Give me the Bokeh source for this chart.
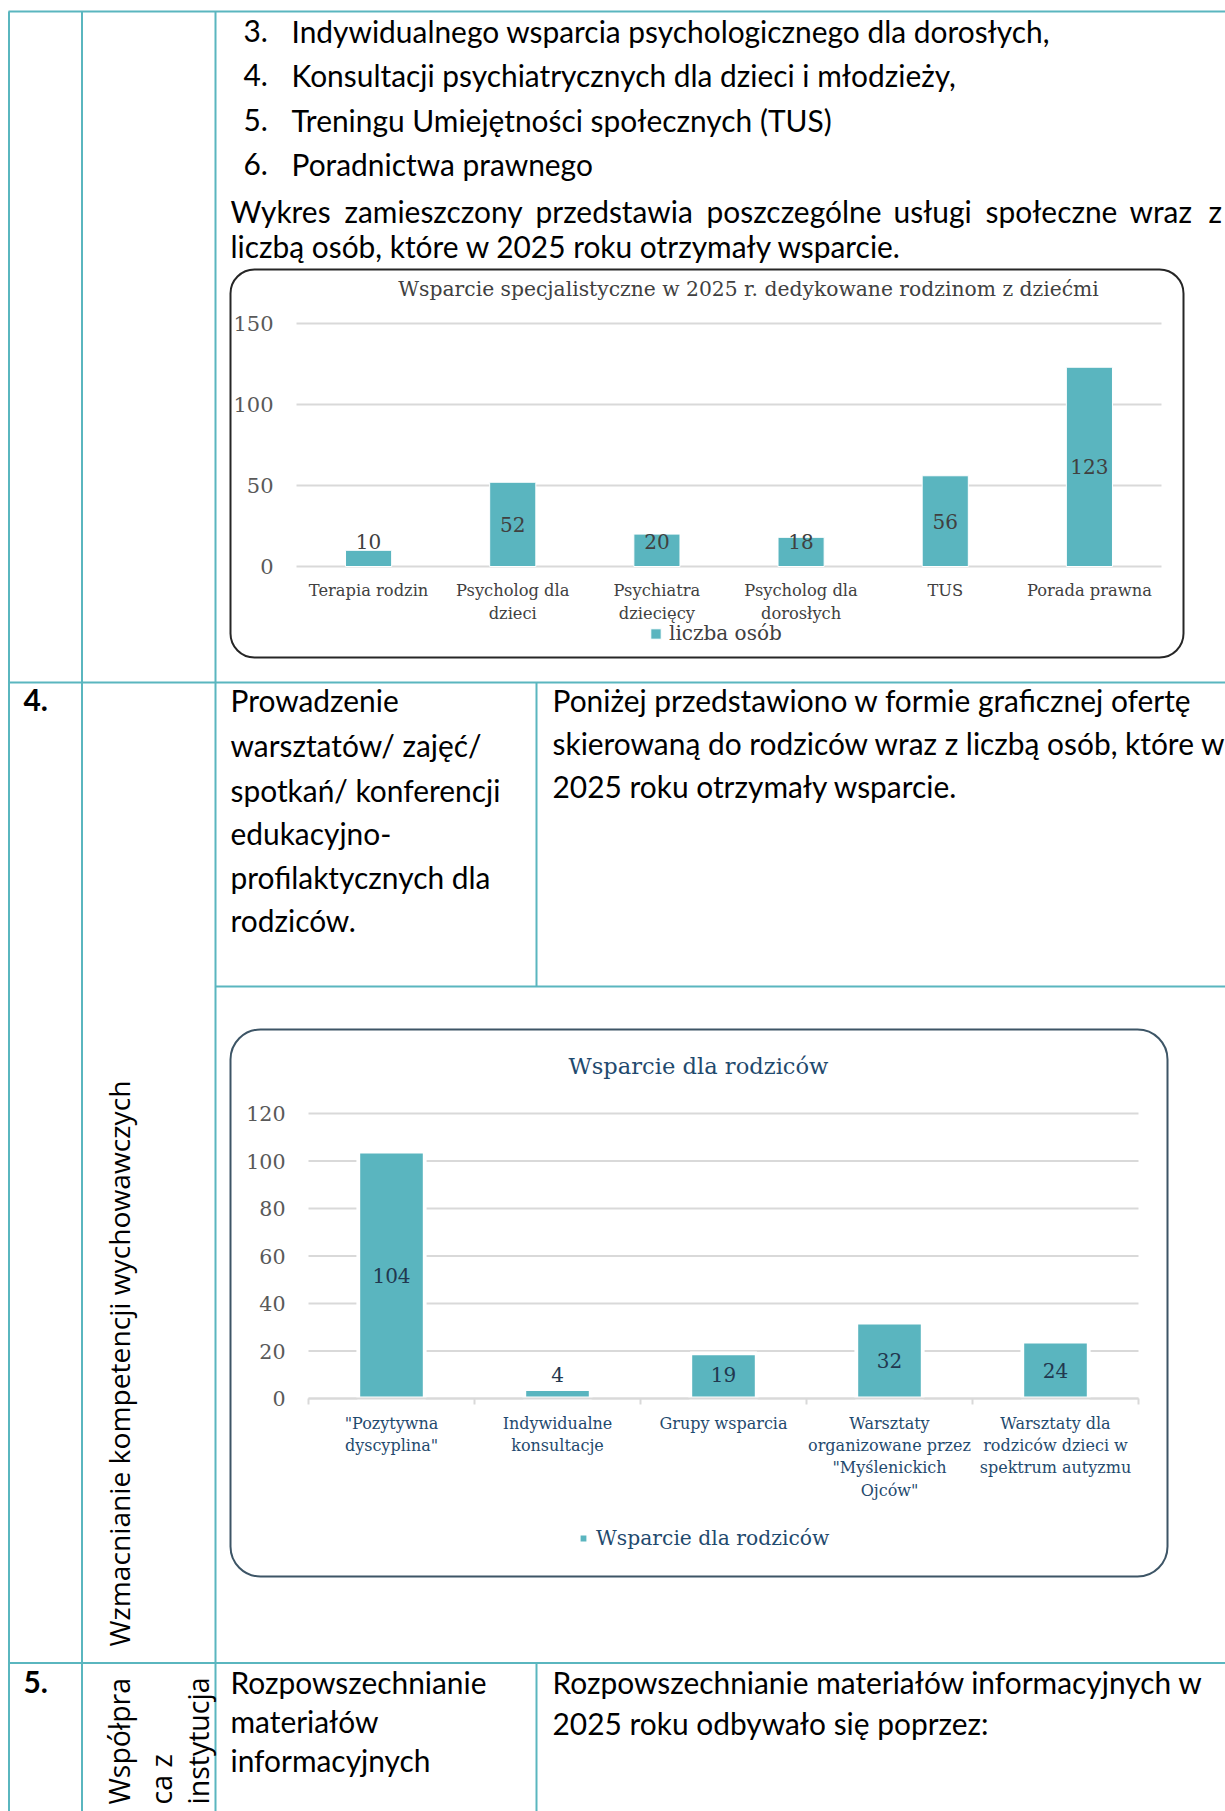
import math
from bokeh.plotting import figure
from bokeh.models import (Range1d, ColumnDataSource, Legend, LegendItem, BoxAnnotation,
                          FixedTicker, LinearAxis)
from bokeh.core.properties import value
from bokeh.embed import file_html
from bokeh.resources import INLINE

# ---------------- data ----------------
list_numbers = ["3.", "4.", "5.", "6."]
list_items = ["Indywidualnego wsparcia psychologicznego dla dorosłych,",
              "Konsultacji psychiatrycznych dla dzieci i młodzieży,",
              "Treningu Umiejętności społecznych (TUS)",
              "Poradnictwa prawnego"]
intro_words = ["Wykres", "zamieszczony", "przedstawia", "poszczególne",
               "usługi", "społeczne", "wraz", "z"]
intro_line2 = "liczbą osób, które w 2025 roku otrzymały wsparcie."

row4_number = "4."
row4_left = ["Prowadzenie", "warsztatów/ zajęć/", "spotkań/ konferencji",
             "edukacyjno-", "profilaktycznych dla", "rodziców."]
row4_right = ["Poniżej przedstawiono w formie graficznej ofertę",
              "skierowaną do rodziców wraz z liczbą osób, które w",
              "2025 roku otrzymały wsparcie."]
row4_vertical = "Wzmacnianie kompetencji wychowawczych"

row5_number = "5."
row5_vertical = ["Współpra", "ca z", "instytucja"]
row5_left = ["Rozpowszechnianie", "materiałów", "informacyjnych"]
row5_right = ["Rozpowszechnianie materiałów informacyjnych w",
              "2025 roku odbywało się poprzez:"]

c1_title = "Wsparcie specjalistyczne w 2025 r. dedykowane rodzinom z dziećmi"
c1_series = "liczba osób"
c1_categories = ["Terapia rodzin", "Psycholog dla\ndzieci", "Psychiatra\ndziecięcy",
                 "Psycholog dla\ndorosłych", "TUS", "Porada prawna"]
c1_values = [10, 52, 20, 18, 56, 123]
c1_ticks = [0, 50, 100, 150]

c2_title = "Wsparcie dla rodziców"
c2_series = "Wsparcie dla rodziców"
c2_categories = ['"Pozytywna\ndyscyplina"', "Indywidualne\nkonsultacje", "Grupy wsparcia",
                 'Warsztaty\norganizowane przez\n"Myślenickich\nOjców"',
                 "Warsztaty dla\nrodziców dzieci w\nspektrum autyzmu"]
c2_values = [104, 4, 19, 32, 24]
c2_ticks = [0, 20, 40, 60, 80, 100, 120]

# ---------------- styles / page geometry ----------------
W, H = 1225, 1811
TABLE = "#5AB6BF"
BAR = "#5AB5BF"
GRID = "#D9D9D9"
BODY_FONT = "Lato"
BODY_SIZE = 29.9
SERIF = "DejaVu Serif"
NAVY = "#1F4A6E"
DY = -2.3   # vertical nudge of body text


def Y(y):
    """page y (from top) -> data y (from bottom)"""
    return H - y


p = figure(width=W, height=H, x_range=Range1d(0, W), y_range=Range1d(0, H),
           output_backend="svg", toolbar_location=None, x_axis_type=None,
           y_axis_type=None, min_border=0, outline_line_color=None,
           border_fill_color="white", background_fill_color="white")


def add_text(xs, ys, texts, size=BODY_SIZE, font=BODY_FONT, color="#000000",
             style="normal", align="left", baseline="alphabetic", angle=0.0, dy=0.0):
    p.text(x=xs, y=[Y(v + dy) for v in ys], text=texts, text_font=value(font),
           text_font_size=f"{size}px", text_font_style=style, text_color=color,
           text_align=align, text_baseline=baseline, angle=angle)


def body(xs, ys, texts, **kw):
    add_text(xs, ys, texts, dy=DY, **kw)


def hline(x0, x1, y, w=2):
    p.segment(x0=[x0], x1=[x1], y0=[Y(y)], y1=[Y(y)], line_color=TABLE, line_width=w)


def vline(x, y0, y1, w=2):
    p.segment(x0=[x], x1=[x], y0=[Y(y0)], y1=[Y(y1)], line_color=TABLE, line_width=w)


# ---------------- table grid ----------------
hline(8, W, 11)
hline(8, W, 682)
hline(215, W, 986)
hline(8, W, 1662.5)
for xv in (8.5, 81.5, 215):
    vline(xv, 11, H)
vline(536, 682, 986)
vline(536, 1662.5, H)

# ---------------- table texts ----------------
body([243] * 4, [32.5, 77, 121.5, 166], list_numbers)
body([291] * 4, [32.5, 77, 121.5, 166], list_items)
body([230, 344, 535, 706, 893, 985, 1129, 1208], [212.5] * 8, intro_words)
body([230], [248], [intro_line2])

body([23], [702], [row4_number], style="bold")
body([230] * 6, [702, 747, 792, 835, 879, 921.5], row4_left)
body([552] * 3, [702, 745, 788], row4_right)
add_text([118], [1646], [row4_vertical], size=28.2, font="Open Sans",
         baseline="middle", angle=math.pi / 2)

body([23], [1683.5], [row5_number], style="bold")
body([230] * 3, [1683.5, 1723, 1762], row5_left)
body([552] * 2, [1683.5, 1725], row5_right)
add_text([118.5, 160, 197], [1804, 1804, 1804], row5_vertical, size=28.5,
         font="Open Sans", baseline="middle", angle=math.pi / 2)

# ---------------- charts ----------------
extra_x, extra_y = {}, {}


def chart(name, cats, x_left, x_right, y_zero, ppu):
    n = len(cats)
    unit = (x_right - x_left) / n
    extra_x[name + "x"] = Range1d(-x_left / unit - 0.5, (W - x_left) / unit - 0.5)
    extra_y[name + "y"] = Range1d((y_zero - H) / ppu, y_zero / ppu)
    return dict(n=n, xn=name + "x", yn=name + "y", x_left=x_left)


g1 = chart("c1", c1_categories, 296, 1161, 566, 1.62)
g2 = chart("c2", c2_categories, 308, 1138, 1398, 2.375)
p.extra_x_ranges = extra_x
p.extra_y_ranges = extra_y


def draw_chart(g, cats, vals, ticks, bar_w, bar_lw, min_label, lab_color,
               tick_color, tick_size, cat_color, cat_size, cat_lh, cat_standoff):
    n, xn, yn = g["n"], g["xn"], g["yn"]
    idx = list(range(n))
    p.segment(x0=[-0.5] * len(ticks), x1=[n - 0.5] * len(ticks), y0=ticks, y1=ticks,
              x_range_name=xn, y_range_name=yn, line_color=GRID, line_width=2)
    src = ColumnDataSource(dict(i=idx, v=vals, lab=[str(v) for v in vals],
                                ly=[max(v / 2, min_label) for v in vals]))
    bars = p.vbar(x="i", top="v", bottom=0, width=bar_w, source=src,
                  x_range_name=xn, y_range_name=yn, fill_color=BAR,
                  line_color="white", line_width=bar_lw)
    p.text(x="i", y="ly", text="lab", source=src, x_range_name=xn, y_range_name=yn,
           text_font=value(SERIF), text_font_size="20px", text_color=lab_color,
           text_align="center", text_baseline="middle")
    ya = LinearAxis(y_range_name=yn, fixed_location=g["x_left"],
                    ticker=FixedTicker(ticks=ticks), axis_line_color=None,
                    major_tick_line_color=None, minor_tick_line_color=None,
                    major_tick_out=0, major_tick_in=0,
                    major_label_standoff=23, major_label_text_font=SERIF,
                    major_label_text_font_size=f"{tick_size}px",
                    major_label_text_color=tick_color)
    p.add_layout(ya, "left")
    xa = LinearAxis(x_range_name=xn, y_range_name=yn, fixed_location=0,
                    ticker=FixedTicker(ticks=idx),
                    major_label_overrides={i: c for i, c in enumerate(cats)},
                    axis_line_color=None, major_tick_line_color=None,
                    minor_tick_line_color=None, major_tick_out=0, major_tick_in=0,
                    major_label_standoff=cat_standoff,
                    major_label_text_font=SERIF,
                    major_label_text_font_size=f"{cat_size}px",
                    major_label_text_color=cat_color,
                    major_label_text_line_height=cat_lh)
    p.add_layout(xa, "below")
    return bars


bars1 = draw_chart(g1, c1_categories, c1_values, c1_ticks, 0.32, 1, 15.5,
                   "#404040", "#595959", 21, "#404040", 16.3, 1.26, 14)
bars2 = draw_chart(g2, c2_categories, c2_values, c2_ticks, 0.40, 3.8, 10,
                   "#22384F", "#595959", 20.6, NAVY, 16, 1.18, 15)

# chart 2: category axis line and boundary tick marks
n2 = len(c2_categories)
p.segment(x0=[-0.5], x1=[n2 - 0.5], y0=[0], y1=[0], x_range_name="c2x",
          y_range_name="c2y", line_color=GRID, line_width=2)
bounds = [i - 0.5 for i in range(n2 + 1)]
xb = LinearAxis(x_range_name="c2x", y_range_name="c2y", fixed_location=0,
                ticker=FixedTicker(ticks=bounds),
                major_label_overrides={b: "" for b in bounds},
                axis_line_color=None, major_tick_line_color=GRID,
                major_tick_line_width=2, major_tick_in=0, major_tick_out=6,
                minor_tick_line_color=None)
p.add_layout(xb, "below")

# titles
add_text([748], [288], [c1_title], size=20.3, font=SERIF, color="#404040",
         align="center", baseline="middle")
add_text([698], [1065], [c2_title], size=22.6, font=SERIF, color=NAVY,
         align="center", baseline="middle")

# legends
leg1 = Legend(items=[LegendItem(label=c1_series, renderers=[bars1])],
              location=(649, Y(645)), orientation="horizontal", margin=0, padding=0,
              label_standoff=7, glyph_width=13, glyph_height=13,
              border_line_color=None, background_fill_alpha=0,
              label_text_font=SERIF, label_text_font_size="20px",
              label_text_color="#404040")
p.add_layout(leg1)
leg2 = Legend(items=[LegendItem(label=c2_series, renderers=[bars2])],
              location=(577, Y(1550)), orientation="horizontal", margin=0, padding=0,
              label_standoff=7, glyph_width=12, glyph_height=12,
              border_line_color=None, background_fill_alpha=0,
              label_text_font=SERIF, label_text_font_size="20.3px",
              label_text_color=NAVY)
p.add_layout(leg2)

# rounded chart frames
p.add_layout(BoxAnnotation(left=230, right=1183, top=Y(269), bottom=Y(657),
                           fill_color=None, fill_alpha=0, line_color="#262626",
                           line_alpha=1, line_width=2, border_radius=24))
p.add_layout(BoxAnnotation(left=230, right=1167, top=Y(1029), bottom=Y(1576),
                           fill_color=None, fill_alpha=0, line_color="#3d5566",
                           line_alpha=1, line_width=2, border_radius=30))

open("out.html", "w").write(file_html(p, INLINE))
